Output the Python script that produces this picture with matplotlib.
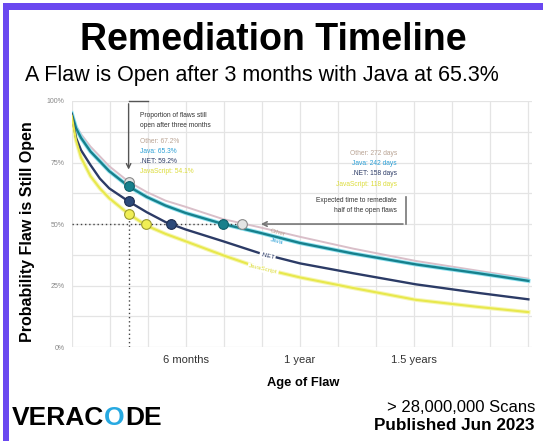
import matplotlib as mpl
mpl.use("Agg")
import matplotlib.pyplot as plt
from matplotlib.patches import Rectangle
from matplotlib.ticker import MultipleLocator, FixedLocator, FuncFormatter

plt.rcParams["font.family"] = ["Liberation Sans", "DejaVu Sans"]

# survival curves, % of flaws still open by age in days
days = [0, 7, 15, 30, 45, 60, 91, 120, 150, 182, 242, 300, 365, 450, 550, 650, 730]
other = [95, 90, 86.5, 81.5, 77.5, 73.5, 67.2, 63, 59.5, 57, 52, 48.7, 44.8, 40, 35, 31, 27.8]
java = [95, 89, 85, 79.5, 75.5, 71.5, 65.3, 61, 57.5, 54.5, 50, 46.5, 42.3, 38, 33.6, 30, 26.9]
dotnet = [94.5, 85, 80, 74, 68.5, 64.5, 59.2, 54.8, 50.8, 47.8, 43, 38.2, 34, 30, 25.5, 22, 19.4]
javascript = [94, 84, 77, 69.5, 64.5, 60.5, 54.1, 49.3, 46, 43, 37.3, 32.2, 28.3, 24, 19.2, 16.3, 14.2]

langs = ["Other", "Java", ".NET", "JavaScript"]
open_3m = [67.2, 65.3, 59.2, 54.1]
half_days = [272, 242, 158, 118]
three_months = 91

line_col = {"Other": "#d9bfc9", "Java": "#17808c", ".NET": "#2c3b66", "JavaScript": "#e8e84c"}
text_col = {"Other": "#b9a393", "Java": "#2a9fd6", ".NET": "#2c3b66", "JavaScript": "#dcdc3a"}
dot_face = {"Other": "#e4e4e4", "Java": "#17808c", ".NET": "#2c4a7a", "JavaScript": "#f0ee55"}
dot_edge = {"Other": "#8a8a8a", "Java": "#0f5f6a", ".NET": "#1d2c50", "JavaScript": "#9a9a30"}

fig = plt.figure(figsize=(5.43, 4.41), dpi=100)
ax = fig.add_axes([0.132, 0.213, 0.848, 0.558])

ax.plot(days, other, color=line_col["Other"], lw=1.4, zorder=2)
ax.plot(days, java, color="#8fe2f0", lw=3.0, zorder=3)
ax.plot(days, java, color=line_col["Java"], lw=1.7, zorder=3)
ax.plot(days, dotnet, color=line_col[".NET"], lw=1.7, zorder=3)
ax.plot(days, javascript, color="#f6f6b4", lw=3.0, zorder=2)
ax.plot(days, javascript, color=line_col["JavaScript"], lw=1.5, zorder=3)

# guide lines
ax.plot([three_months, three_months], [0, min(open_3m)], color="#444444",
        lw=1, ls=(0, (1, 2)), zorder=4)
ax.plot([0, max(half_days)], [50, 50], color="#444444", lw=1, ls=(0, (1, 2)), zorder=4)

for lang, v, d in zip(langs, open_3m, half_days):
    for x, y in [(three_months, v), (d, 50)]:
        ax.plot(x, y, "o", ms=7, mfc=dot_face[lang], mec=dot_edge[lang], mew=0.8, zorder=6)

# annotation: proportion still open after three months
ax.plot([122, three_months], [100, 100], color="#555555", lw=1, clip_on=False, zorder=5)
ax.annotate("", xy=(three_months, 71), xytext=(three_months, 100),
            arrowprops=dict(arrowstyle="->", color="#555555", lw=1, mutation_scale=8),
            annotation_clip=False, zorder=5)
ax.text(109, 94.3, "Proportion of flaws still", fontsize=4.8, color="#333333", va="center")
ax.text(109, 90.2, "open after three months", fontsize=4.8, color="#333333", va="center")
for i, (lang, v) in enumerate(zip(langs, open_3m)):
    ax.text(109, 83.4 - i * 4.05, f"{lang}: {v}%", fontsize=4.8,
            color=text_col[lang], va="center")

# annotation: expected time to remediate half
ax.plot([534, 534], [61, 50], color="#777777", lw=1.2, zorder=5)
ax.annotate("", xy=(298, 50), xytext=(534, 50),
            arrowprops=dict(arrowstyle="->", color="#777777", lw=1.2, mutation_scale=8), zorder=5)
ax.text(520, 59.7, "Expected time to remediate", fontsize=4.8, color="#333333",
        ha="right", va="center")
ax.text(520, 55.6, "half of the open flaws", fontsize=4.8, color="#333333",
        ha="right", va="center")
for i, (lang, d) in enumerate(zip(langs, half_days)):
    ax.text(520, 78.8 - i * 4.2, f"{lang}: {d} days", fontsize=4.8,
            color=text_col[lang], ha="right", va="center")

# curve labels
ax.text(330, 46.6, "Other", fontsize=4.6, color=text_col["Other"], rotation=-15,
        ha="center", va="center", zorder=7)
ax.text(328, 43.0, "Java", fontsize=4.6, color=text_col["Java"], rotation=-15,
        ha="center", va="center", zorder=7)
ax.text(313, 37.0, ".NET", fontsize=4.6, color=line_col[".NET"], rotation=-13,
        ha="center", va="center", zorder=7,
        bbox=dict(boxstyle="square,pad=0.15", fc="white", ec="none"))
ax.text(306, 31.6, "JavaScript", fontsize=4.6, color=text_col["JavaScript"], rotation=-13,
        ha="center", va="center", zorder=7,
        bbox=dict(boxstyle="square,pad=0.15", fc="white", ec="none"))

ax.set_xlim(0, 736)
ax.set_ylim(0, 100)
ax.xaxis.set_major_locator(FixedLocator([182.5, 365, 547.5]))
ax.set_xticklabels(["6 months", "1 year", "1.5 years"])
ax.xaxis.set_minor_locator(MultipleLocator(730 / 12))
ax.yaxis.set_major_locator(MultipleLocator(25))
ax.yaxis.set_major_formatter(FuncFormatter(lambda v, p: f"{v:.0f}%"))
ax.yaxis.set_minor_locator(MultipleLocator(12.5))
ax.grid(which="both", color="#e4e4e4", lw=0.9, zorder=0)
ax.tick_params(which="both", length=0)
ax.tick_params(axis="y", labelsize=5, labelcolor="#888888", pad=5)
ax.tick_params(axis="x", labelsize=8, labelcolor="#333333", pad=6)
for s in ax.spines.values():
    s.set_visible(False)

# page texts
fig.text(0.504, 1 - 40 / 441, "Remediation Timeline", ha="center", va="center",
         fontsize=27, weight="bold")
fig.text(0.482, 1 - 75 / 441, "A Flaw is Open after 3 months with Java at 65.3%",
         ha="center", va="center", fontsize=15.5)
fig.text(28 / 543, 1 - 232 / 441, "Probability Flaw is Still Open", rotation=90,
         ha="center", va="center", fontsize=11.5, weight="bold")
fig.text(303 / 543, 1 - 383 / 441, "Age of Flaw", ha="center", va="center",
         fontsize=9.3, weight="bold")
fig.text(535 / 543, 1 - 407 / 441, "> 28,000,000 Scans", ha="right", va="center",
         fontsize=12)
fig.text(535 / 543, 1 - 426 / 441, "Published Jun 2023", ha="right", va="center",
         fontsize=12.3, weight="bold")

# logo
renderer = fig.canvas.get_renderer()
x = 12 / 543
for part, col in [("VERAC", "black"), ("O", "#27a9e1"), ("DE", "black")]:
    t = fig.text(x, 1 - 418 / 441, part, ha="left", va="center", fontsize=19,
                 weight="bold", color=col)
    bb = t.get_window_extent(renderer)
    x += bb.width / fig.bbox.width

# purple frame
fig.add_artist(Rectangle((3 / 543, 0), 6 / 543, 1 - 3 / 441, transform=fig.transFigure,
                         fc="#6a48f0", ec="none"))
fig.add_artist(Rectangle((3 / 543, 1 - 10 / 441), 1, 7 / 441, transform=fig.transFigure,
                         fc="#6a48f0", ec="none"))

fig.savefig("out.png", dpi=100)
